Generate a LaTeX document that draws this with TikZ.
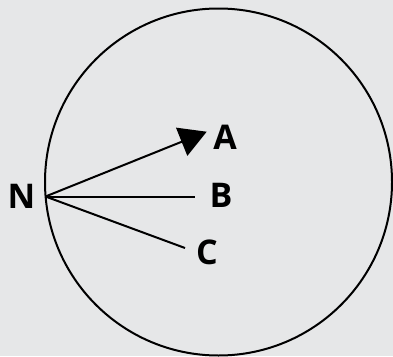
\documentclass[tikz,border=0pt]{standalone}
\usepackage{fontspec}
\setmainfont{Open Sans}
\usetikzlibrary{arrows.meta}
\definecolor{bg}{HTML}{E6E7E8}
\begin{document}
\begin{tikzpicture}[x=1pt,y=-1pt,
  lbl/.style={font=\fontsize{34}{34}\selectfont\bfseries, inner sep=0pt, anchor=center},
  ray/.style={line width=2pt, line cap=butt},
  ring/.style={line width=2pt}]
\fill[bg] (0,0) rectangle (393,356);
\useasboundingbox (0,0) rectangle (393,356);
\draw[ring] (218.5,182) circle[radius=173.5];
\coordinate (N0) at (45.5,196.5);
\coordinate (a) at (206.7,131.7);
\coordinate (b) at (194.5,196.5);
\coordinate (c) at (185,248);
\node[lbl] (N) at (21.5,196) {N};
\node[lbl] (A) at (225,137.5) {A};
\node[lbl] (B) at (221,195) {B};
\node[lbl] (C) at (207,252) {C};
\draw[ray,-{Triangle[length=27pt,width=30pt]}] (N0) -- (a);
\draw[ray] (N0) -- (b);
\draw[ray] (N0) -- (c);
\end{tikzpicture}
\end{document}
